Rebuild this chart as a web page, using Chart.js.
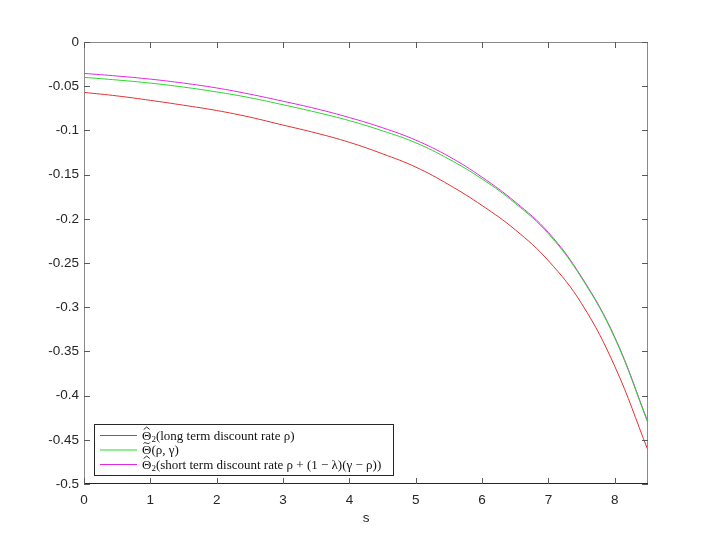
<!DOCTYPE html>
<html>
<head>
<meta charset="utf-8">
<title>Theta curves</title>
<script src="https://cdn.jsdelivr.net/npm/chart.js@4.4.0/dist/chart.umd.min.js"></script>
<style>
    html, body { margin: 0; padding: 0; background: #ffffff; }
    #wrap { width: 706px; height: 546px; }
</style>
</head>
<body>
<div id="wrap"><canvas id="thetaChart" width="706" height="546"></canvas></div>
<script>
// Data
const sValues = [0, 0.5, 1, 1.5, 2, 2.5, 3, 3.5, 4, 4.5, 5, 5.5, 6, 6.5, 7, 7.5, 8, 8.5];
const thetaLong = [-0.057, -0.061, -0.066, -0.0715, -0.0775, -0.085, -0.094, -0.103, -0.1135, -0.1265, -0.1415, -0.1615, -0.185, -0.2125, -0.2475, -0.296, -0.367, -0.462];
const thetaTilde = [-0.040, -0.043, -0.0465, -0.051, -0.0565, -0.063, -0.071, -0.0795, -0.089, -0.1005, -0.114, -0.1325, -0.155, -0.1825, -0.217, -0.267, -0.335, -0.431];
const thetaShort = [-0.0355, -0.0385, -0.042, -0.0465, -0.052, -0.059, -0.067, -0.0755, -0.0855, -0.097, -0.111, -0.1295, -0.153, -0.181, -0.2155, -0.266, -0.334, -0.430];

// Teks legenda: simbol, aksen, subskrip, sisa teks
const legendSymbols = ['Θ', 'Θ', 'Θ'];
const legendAccents = ['hat', 'tilde', 'hat'];
const legendSubs = ['2', '', '2'];
const legendRests = [
    '(long term discount rate ρ)',
    '(ρ, γ)',
    '(short term discount rate ρ + (1 − λ)(γ − ρ))'
];
const xTitle = 's';

const axisFont = { family: '"Liberation Sans", Arial, sans-serif', size: 13.5 };
const textColor = '#262626';
const serif = '"Liberation Serif", "DejaVu Serif", serif';

// Gabungkan s dan nilai menjadi titik
function toPoints(values) {
    return sValues.map((s, i) => ({ x: s, y: values[i] }));
}

// Tulis satu label legenda dengan aksen dan subskrip
function drawLegendLabel(ctx, i, x, y) {
    ctx.font = '13px ' + serif;
    ctx.fillText(legendSymbols[i], x, y);
    const symW = ctx.measureText(legendSymbols[i]).width;
    const mid = x + symW / 2;
    const top = y - 10;
    ctx.save();
    ctx.strokeStyle = '#111111';
    ctx.lineWidth = 0.9;
    ctx.beginPath();
    if (legendAccents[i] === 'hat') {
        ctx.moveTo(mid - 3, top);
        ctx.lineTo(mid, top - 2.5);
        ctx.lineTo(mid + 3, top);
    } else {
        ctx.moveTo(mid - 3.2, top - 0.5);
        ctx.bezierCurveTo(mid - 1.5, top - 3, mid + 1.5, top + 1.5, mid + 3.2, top - 1.5);
    }
    ctx.stroke();
    ctx.restore();
    let cx = x + symW;
    if (legendSubs[i]) {
        ctx.font = '9px ' + serif;
        ctx.fillText(legendSubs[i], cx, y + 2.5);
        cx += ctx.measureText(legendSubs[i]).width;
    }
    ctx.font = '13px ' + serif;
    ctx.fillText(legendRests[i], cx, y);
}

// Kotak sumbu dengan tick ke dalam (gaya MATLAB)
const boxPlugin = {
    id: 'boxPlugin',
    afterDraw(chart) {
        const ctx = chart.ctx;
        const a = chart.chartArea;
        const xs = chart.scales.x;
        const ys = chart.scales.y;
        ctx.save();
        ctx.lineWidth = 1;
        ctx.strokeStyle = '#8a8a8a';
        ctx.beginPath();
        ctx.moveTo(a.left + 0.5, a.bottom);
        ctx.lineTo(a.left + 0.5, a.top + 0.5);
        ctx.lineTo(a.right - 0.5, a.top + 0.5);
        ctx.lineTo(a.right - 0.5, a.bottom);
        ctx.stroke();
        ctx.strokeStyle = '#262626';
        ctx.beginPath();
        ctx.moveTo(a.left, a.bottom - 0.5);
        ctx.lineTo(a.right, a.bottom - 0.5);
        ctx.stroke();

        // tick ke dalam
        ctx.strokeStyle = '#5a5a5a';
        ctx.beginPath();
        xs.ticks.forEach(t => {
            const px = Math.round(xs.getPixelForValue(t.value)) + 0.5;
            ctx.moveTo(px, a.bottom);
            ctx.lineTo(px, a.bottom - 6);
            ctx.moveTo(px, a.top);
            ctx.lineTo(px, a.top + 6);
        });
        ys.ticks.forEach(t => {
            const py = Math.round(ys.getPixelForValue(t.value)) + 0.5;
            ctx.moveTo(a.left, py);
            ctx.lineTo(a.left + 6, py);
            ctx.moveTo(a.right, py);
            ctx.lineTo(a.right - 6, py);
        });
        ctx.stroke();

        // legenda di pojok kiri bawah
        const lx = a.left + 10;
        const ly = a.bottom - 60;
        const lw = 299;
        const lh = 51;
        ctx.fillStyle = '#ffffff';
        ctx.fillRect(lx, ly, lw, lh);
        ctx.strokeStyle = '#262626';
        ctx.strokeRect(lx + 0.5, ly + 0.5, lw, lh);
        ctx.textBaseline = 'alphabetic';
        chart.data.datasets.forEach((ds, i) => {
            const rowY = ly + 11 + i * 14.5;
            ctx.strokeStyle = ds.borderColor;
            ctx.beginPath();
            ctx.moveTo(lx + 6, rowY + 0.5);
            ctx.lineTo(lx + 43, rowY + 0.5);
            ctx.stroke();
            ctx.fillStyle = '#111111';
            drawLegendLabel(ctx, i, lx + 48, rowY + 4.5);
        });
        ctx.restore();
    }
};

function buildChart() {
    const ctx = document.getElementById('thetaChart');
    const colors = ['rgb(226, 50, 50)', 'rgb(40, 215, 40)', 'rgb(226, 40, 226)'];
    const series = [thetaLong, thetaTilde, thetaShort];

    window.thetaChart = new Chart(ctx, {
        type: 'line',
        data: {
            datasets: series.map((vals, i) => ({
                label: legendSymbols[i] + legendSubs[i] + legendRests[i],
                data: toPoints(vals),
                borderColor: colors[i],
                borderWidth: 1,
                pointRadius: 0,
                fill: false,
                tension: 0.4
            }))
        },
        options: {
            responsive: false,
            animation: false,
            layout: { padding: { top: 42, right: 58, left: 0, bottom: 0 } },
            scales: {
                x: {
                    type: 'linear',
                    min: 0,
                    max: 8.5,
                    grid: { display: false, drawTicks: false },
                    border: { display: false },
                    ticks: {
                        stepSize: 1,
                        includeBounds: false,
                        padding: 8,
                        color: textColor,
                        font: axisFont,
                        maxRotation: 0
                    },
                    title: {
                        display: true,
                        text: xTitle,
                        color: textColor,
                        font: axisFont,
                        padding: { top: 0, bottom: 20 }
                    },
                    afterFit: function(scale) { scale.height = 62; }
                },
                y: {
                    min: -0.5,
                    max: 0,
                    grid: { display: false, drawTicks: false },
                    border: { display: false },
                    ticks: {
                        stepSize: 0.05,
                        padding: 5,
                        color: textColor,
                        font: axisFont,
                        callback: function(v) {
                            return v === 0 ? '0' : String(+v.toFixed(2));
                        }
                    },
                    afterFit: function(scale) { scale.width = 84; }
                }
            },
            plugins: {
                legend: { display: false },
                tooltip: { enabled: false }
            }
        },
        plugins: [boxPlugin]
    });
}

buildChart();
</script>
</body>
</html>
